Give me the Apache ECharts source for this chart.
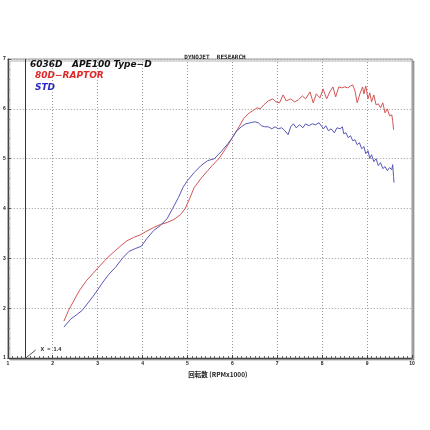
<!DOCTYPE html>
<html><head><meta charset="utf-8">
<script src="https://cdn.jsdelivr.net/npm/echarts@6/dist/echarts.min.js"></script>
<style>html,body{margin:0;padding:0;background:#fff}#c{width:430px;height:430px}</style>
</head><body><div id="c"></div>
<script>
const xTicks = [1,2,3,4,5,6,7,8,9,10];
const yTicks = [1,2,3,4,5,6,7];
const raptorRpm = [2.25,2.35,2.5,2.6,2.75,2.9,3.0,3.15,3.3,3.5,3.65,3.8,3.95,4.1,4.25,4.4,4.55,4.7,4.85,4.95,5.05,5.15,5.3,5.45,5.55,5.7,5.85,5.96,6.05,6.15,6.25,6.35,6.45,6.55,6.62,6.7,6.8,6.9,6.97,7.05,7.13,7.2,7.3,7.38,7.47,7.56,7.63,7.73,7.8,7.87,7.95,8.02,8.1,8.17,8.24,8.3,8.37,8.44,8.5,8.57,8.63,8.68,8.73,8.78,8.84,8.9,8.93,8.97,9.02,9.06,9.1,9.15,9.2,9.25,9.3,9.35,9.4,9.45,9.5,9.55,9.57,9.59];
const raptorVal = [1.74,1.95,2.2,2.36,2.55,2.7,2.8,2.95,3.08,3.24,3.35,3.42,3.47,3.55,3.62,3.68,3.72,3.78,3.88,4.0,4.2,4.42,4.6,4.76,4.86,5.0,5.2,5.36,5.5,5.64,5.8,5.9,5.96,6.02,6.0,6.08,6.16,6.2,6.14,6.12,6.28,6.16,6.2,6.14,6.18,6.26,6.2,6.34,6.12,6.3,6.22,6.4,6.2,6.34,6.44,6.24,6.44,6.42,6.44,6.42,6.46,6.48,6.36,6.12,6.3,6.44,6.3,6.46,6.2,6.32,6.14,6.28,6.08,6.1,6.02,6.12,5.92,6.0,5.86,5.88,5.76,5.58];
const stdRpm = [2.25,2.4,2.55,2.65,2.8,2.95,3.1,3.25,3.4,3.55,3.7,3.85,3.97,4.1,4.25,4.4,4.55,4.67,4.8,4.9,5.0,5.15,5.3,5.45,5.6,5.75,5.9,6.0,6.1,6.2,6.3,6.4,6.5,6.58,6.65,6.72,6.8,6.88,6.95,7.02,7.1,7.17,7.24,7.3,7.36,7.42,7.5,7.57,7.63,7.7,7.78,7.85,7.93,7.98,8.03,8.08,8.14,8.2,8.27,8.33,8.4,8.45,8.48,8.53,8.58,8.63,8.68,8.73,8.78,8.83,8.88,8.93,8.97,9.02,9.06,9.1,9.15,9.2,9.25,9.3,9.35,9.4,9.45,9.5,9.55,9.57,9.59,9.6];
const stdVal = [1.62,1.78,1.88,1.95,2.12,2.3,2.5,2.68,2.82,3.0,3.14,3.2,3.24,3.4,3.56,3.66,3.8,4.0,4.22,4.42,4.56,4.72,4.86,4.96,5.0,5.14,5.3,5.42,5.56,5.64,5.7,5.72,5.74,5.72,5.66,5.64,5.64,5.6,5.64,5.6,5.62,5.56,5.48,5.64,5.7,5.62,5.68,5.62,5.7,5.66,5.7,5.68,5.72,5.66,5.6,5.66,5.56,5.6,5.52,5.62,5.6,5.64,5.5,5.52,5.42,5.46,5.36,5.38,5.28,5.32,5.2,5.24,5.1,5.16,5.0,5.08,4.94,5.0,4.86,4.92,4.8,4.84,4.76,4.82,4.78,4.88,4.64,4.52];
const markerX = 1.4;
const labels = {title:'DYNOJET  RESEARCH', head:'6036D   APE100 Type\u2212D', s1:'80D\u2212RAPTOR', s2:'STD', xname:'回転数 (RPMx1000)', marker:'X  =  1.4'};

const chart = echarts.init(document.getElementById('c'));
const zip = (a,b)=>a.map((v,i)=>[v,b[i]]);
chart.setOption({
  animation:false,
  backgroundColor:'#fff',
  title:{text:labels.title,left:'center',top:49,textStyle:{fontSize:6,fontWeight:'bold',color:'#222',fontFamily:'DejaVu Sans Mono'}},
  grid:{left:7,right:18,top:59,bottom:72,show:true,borderColor:'#999',borderWidth:1,
        shadowColor:'rgba(0,0,0,0.3)',shadowOffsetX:2,shadowOffsetY:2,shadowBlur:0,backgroundColor:'#fff'},
  xAxis:{type:'value',min:1,max:10,interval:1,
    name:labels.xname,nameLocation:'middle',nameGap:11,
    nameTextStyle:{fontSize:6.5,fontWeight:'bold',color:'#222',fontFamily:'Noto Sans CJK JP',padding:[0,0,0,16]},
    axisLine:{show:true,lineStyle:{color:'#444'}},
    axisTick:{show:true,inside:true,length:3,lineStyle:{color:'#444'}},
    minorTick:{show:true,splitNumber:10,length:2,lineStyle:{color:'#666'}},
    axisLabel:{fontSize:5,color:'#222',fontWeight:'bold',margin:3},
    splitLine:{show:true,lineStyle:{color:'#999',type:[1,2],width:1}}},
  yAxis:{type:'value',min:1,max:7,interval:1,
    axisLine:{show:true,lineStyle:{color:'#444'}},
    axisTick:{show:true,inside:true,length:3,lineStyle:{color:'#444'}},
    minorTick:{show:true,splitNumber:5,length:2,lineStyle:{color:'#666'}},
    axisLabel:{fontSize:5,color:'#222',fontWeight:'bold',margin:2},
    splitLine:{show:true,lineStyle:{color:'#999',type:[1,2],width:1}}},
  graphic:[
    {type:'text',left:30,top:60,style:{text:labels.head,font:'italic bold 9px "DejaVu Sans"',fill:'#111'}},
    {type:'text',left:35,top:71,style:{text:labels.s1,font:'italic bold 9px "DejaVu Sans"',fill:'#e02828'}},
    {type:'text',left:35,top:83,style:{text:labels.s2,font:'italic bold 9px "DejaVu Sans"',fill:'#2828c8'}}
  ],
  series:[
    {name:labels.s1,type:'line',data:zip(raptorRpm,raptorVal),symbol:'none',lineStyle:{color:'#d45555',width:1},
     markLine:{silent:true,symbol:'none',animation:false,
       data:[[{coord:[markerX,1]},{coord:[markerX,7]}]],
       lineStyle:{color:'#333',type:'solid',width:1},label:{show:false}}},
    {name:labels.s2,type:'line',data:zip(stdRpm,stdVal),symbol:'none',lineStyle:{color:'#5858b8',width:1},
     markLine:{silent:true,symbol:'none',animation:false,
       data:[[{coord:[markerX,1]},{coord:[markerX+0.22,1.16]}]],
       lineStyle:{color:'#555',type:'solid',width:1},label:{show:false}},
     markPoint:{silent:true,symbol:'circle',symbolSize:0,animation:false,
       data:[{coord:[markerX+0.56,1.18]}],
       label:{show:true,position:'inside',formatter:labels.marker,fontSize:5.5,color:'#222',fontWeight:'bold'}}}
  ]
});
</script></body></html>
